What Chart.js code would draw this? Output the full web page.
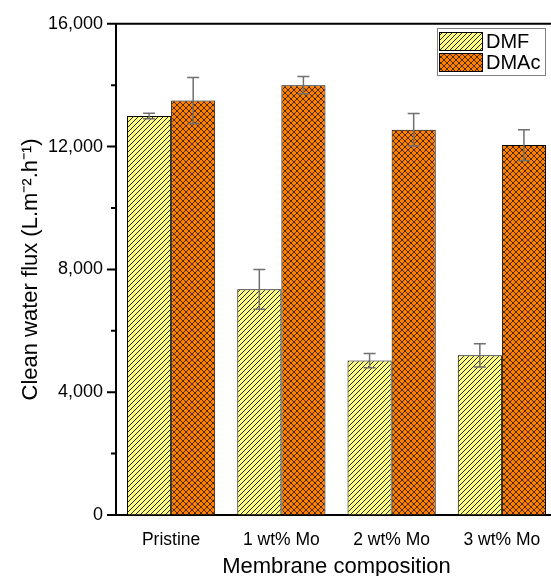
<!DOCTYPE html>
<html>
<head>
<meta charset="utf-8">
<script src="https://cdn.jsdelivr.net/npm/chart.js@4"></script>
<style>
  html, body { margin: 0; padding: 0; background: #fff; overflow: hidden; }
  #wrap { width: 560px; height: 576px; }
</style>
</head>
<body>
<div id="wrap"><canvas id="chartFlux" width="560" height="576"></canvas></div>
<script>
const categories = ['Pristine', '1 wt% Mo', '2 wt% Mo', '3 wt% Mo'];
const dmfValues = [13000, 7350, 5030, 5200];
const dmfErrors = [90, 650, 230, 380];
const dmacValues = [13500, 14000, 12550, 12050];
const dmacErrors = [750, 280, 530, 500];
const yTicks = [0, 4000, 8000, 12000, 16000];

const FONT = '"Liberation Sans", Arial, sans-serif';

// hatch patterns like the Origin fills
const makePattern = (bg, cross) => {
  const size = cross ? 6 : 5;
  const c = document.createElement('canvas');
  c.width = size; c.height = size;
  const g = c.getContext('2d');
  g.fillStyle = bg;
  g.fillRect(0, 0, size, size);
  g.strokeStyle = cross ? '#3a2000' : '#222';
  g.lineWidth = cross ? 0.9 : 1;
  g.beginPath();
  g.moveTo(-1, size + 1); g.lineTo(size + 1, -1);
  if (cross) { g.moveTo(-1, -1); g.lineTo(size + 1, size + 1); }
  g.stroke();
  return g.createPattern(c, 'repeat');
};

const dmfFill = makePattern('#ffff80', false);
const dmacFill = makePattern('#ff8000', true);

const errorBars = {
  id: 'errorBars',
  afterDatasetsDraw(chart) {
    const { ctx, scales: { y } } = chart;
    const errs = [dmfErrors, dmacErrors];
    ctx.save();
    ctx.strokeStyle = '#707070';
    ctx.lineWidth = 1.5;
    chart.data.datasets.forEach((ds, i) => {
      chart.getDatasetMeta(i).data.forEach((bar, j) => {
        const v = ds.data[j];
        const top = y.getPixelForValue(v + errs[i][j]);
        const bot = y.getPixelForValue(v - errs[i][j]);
        ctx.beginPath();
        ctx.moveTo(bar.x, top); ctx.lineTo(bar.x, bot);
        ctx.moveTo(bar.x - 6, top); ctx.lineTo(bar.x + 6, top);
        ctx.moveTo(bar.x - 6, bot); ctx.lineTo(bar.x + 6, bot);
        ctx.stroke();
      });
    });
    ctx.restore();
  }
};

const frameAndTicks = {
  id: 'frameAndTicks',
  afterDraw(chart) {
    const { ctx, chartArea: a, scales: { y } } = chart;
    ctx.save();
    ctx.strokeStyle = '#000';
    ctx.lineWidth = 2;
    ctx.beginPath();
    ctx.moveTo(a.left - 9, a.top); ctx.lineTo(a.right + 5, a.top);
    for (let v = 0; v <= 16000; v += 2000) {
      const py = y.getPixelForValue(v);
      const len = yTicks.includes(v) ? 9 : 5;
      ctx.moveTo(a.left - len, py); ctx.lineTo(a.left, py);
    }
    ctx.stroke();

    // legend box
    const bx = 437, by = 28, bw = 108, bh = 47;
    ctx.fillStyle = '#fff';
    ctx.fillRect(bx, by, bw, bh);
    ctx.strokeStyle = '#808080';
    ctx.lineWidth = 1;
    ctx.strokeRect(bx + 0.5, by + 0.5, bw, bh);
    chart.data.datasets.forEach((ds, i) => {
      const sy = by + 4 + i * 21;
      ctx.fillStyle = ds.backgroundColor;
      ctx.fillRect(bx + 2, sy, 43, 18);
      ctx.strokeStyle = '#000';
      ctx.strokeRect(bx + 2.5, sy + 0.5, 43, 18);
      ctx.fillStyle = '#000';
      ctx.font = '20px ' + FONT;
      ctx.textBaseline = 'middle';
      ctx.fillText(ds.label, bx + 49, sy + 10);
    });
    ctx.restore();
  }
};

new Chart(document.getElementById('chartFlux').getContext('2d'), {
  type: 'bar',
  data: {
    labels: categories,
    datasets: [
      { label: 'DMF', data: dmfValues, backgroundColor: dmfFill, borderColor: '#000', borderWidth: 1 },
      { label: 'DMAc', data: dmacValues, backgroundColor: dmacFill, borderColor: '#000', borderWidth: 1 }
    ]
  },
  options: {
    responsive: false,
    animation: false,
    layout: { padding: { top: 23, right: 3, left: 0, bottom: 0 } },
    datasets: { bar: { categoryPercentage: 0.8, barPercentage: 1.0 } },
    plugins: { legend: { display: false }, tooltip: { enabled: false } },
    scales: {
      x: {
        grid: { display: false },
        border: { color: '#000', width: 2 },
        ticks: { color: '#000', font: { family: FONT, size: 17.5 }, padding: 7 },
        title: { display: true, text: 'Membrane composition', color: '#000', font: { family: FONT, size: 22 }, padding: { top: 0, bottom: -4 } },
        afterFit: (s) => { s.height = 61; }
      },
      y: {
        min: 0,
        max: 16000,
        grid: { display: true, drawOnChartArea: false, drawTicks: false },
        border: { color: '#000', width: 2 },
        ticks: {
          stepSize: 2000,
          color: '#000',
          padding: 13,
          font: { family: FONT, size: 18 },
          callback: (v) => yTicks.includes(v) ? v.toLocaleString('en-US') : ''
        },
        title: { display: true, text: 'Clean water flux (L.m⁻².h⁻¹)', color: '#000', font: { family: FONT, size: 22 }, padding: { top: 18, bottom: 4 } },
        afterFit: (s) => { s.width = 116; }
      }
    }
  },
  plugins: [errorBars, frameAndTicks]
});
</script>
</body>
</html>
